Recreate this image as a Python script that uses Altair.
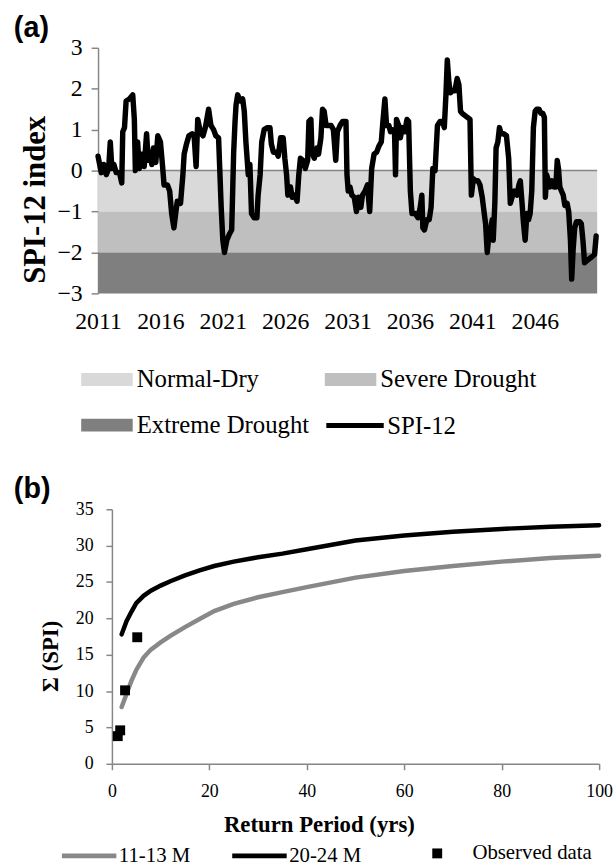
import altair as alt
import pandas as pd

SERIF = "Liberation Serif"
SANS = "Liberation Sans"
GRAY = "#868686"

# ---------------- panel (a) data ----------------
spi_year = [
    2011.00, 2011.26, 2011.45, 2011.66, 2011.85, 2011.98, 2012.11, 2012.27, 2012.46, 2012.72,
    2012.90, 2012.98, 2013.12, 2013.25, 2013.51, 2013.78, 2013.91, 2013.99, 2014.17, 2014.31,
    2014.49, 2014.70, 2014.89, 2015.02, 2015.15, 2015.31, 2015.44, 2015.63, 2015.79, 2016.00,
    2016.16, 2016.29, 2016.56, 2016.74, 2016.90, 2017.08, 2017.22, 2017.35, 2017.61, 2017.80,
    2017.90, 2018.09, 2018.28, 2018.54, 2018.70, 2018.86, 2018.99, 2019.20, 2019.41, 2019.60,
    2019.86, 2020.05, 2020.26, 2020.44, 2020.66, 2020.87, 2021.00, 2021.13, 2021.32, 2021.53,
    2021.71, 2021.79, 2021.87, 2021.98, 2022.06, 2022.19, 2022.40, 2022.59, 2022.72, 2022.85,
    2023.04, 2023.17, 2023.30, 2023.51, 2023.73, 2023.83, 2023.99, 2024.12, 2024.31, 2024.57,
    2024.78, 2024.89, 2025.05, 2025.31, 2025.44, 2025.63, 2025.84, 2025.97, 2026.11, 2026.21,
    2026.42, 2026.56, 2026.74, 2026.95, 2027.09, 2027.22, 2027.43, 2027.61, 2027.80, 2027.90,
    2028.06, 2028.14, 2028.33, 2028.54, 2028.67, 2028.86, 2028.99, 2029.12, 2029.28, 2029.47,
    2029.68, 2029.86, 2030.05, 2030.18, 2030.39, 2030.60, 2030.87, 2030.95, 2031.05, 2031.19,
    2031.34, 2031.53, 2031.71, 2031.87, 2032.06, 2032.19, 2032.40, 2032.59, 2032.77, 2032.93,
    2033.12, 2033.33, 2033.51, 2033.70, 2033.83, 2033.99, 2034.12, 2034.31, 2034.44, 2034.57,
    2034.76, 2034.84, 2034.92, 2035.10, 2035.23, 2035.37, 2035.58, 2035.76, 2035.89, 2036.03,
    2036.16, 2036.42, 2036.64, 2036.82, 2036.95, 2037.03, 2037.16, 2037.35, 2037.54, 2037.69,
    2037.83, 2038.01, 2038.20, 2038.41, 2038.62, 2038.75, 2038.88, 2038.99, 2039.12, 2039.25,
    2039.39, 2039.60, 2039.78, 2039.92, 2040.05, 2040.18, 2040.39, 2040.60, 2040.81, 2040.92,
    2041.08, 2041.26, 2041.45, 2041.61, 2041.79, 2041.93, 2042.06, 2042.19, 2042.32, 2042.46,
    2042.59, 2042.67, 2042.80, 2042.90, 2043.04, 2043.17, 2043.30, 2043.51, 2043.73, 2043.91,
    2044.04, 2044.23, 2044.36, 2044.57, 2044.73, 2044.84, 2044.97, 2045.10, 2045.23, 2045.37,
    2045.50, 2045.63, 2045.76, 2045.89, 2046.03, 2046.16, 2046.34, 2046.48, 2046.64, 2046.77,
    2046.85, 2046.95, 2047.09, 2047.22, 2047.38, 2047.54, 2047.69, 2047.80, 2047.90, 2048.01,
    2048.14, 2048.28, 2048.41, 2048.59, 2048.72, 2048.86, 2048.96, 2049.07, 2049.20, 2049.34,
    2049.60, 2049.73, 2049.86, 2049.99, 2050.18, 2050.39, 2050.60, 2050.79, 2050.92,
]
spi_value = [
    0.35, -0.05, 0.15, -0.10, 0.05, 0.70, 0.05, 0.15, -0.05, -0.05,
    -0.30, 0.95, 1.05, 1.70, 1.75, 1.85, 1.25, 0.00, 0.70, 0.05,
    0.40, 0.10, 0.90, 0.25, 0.45, 0.15, 0.55, 0.20, 0.85, 0.70,
    0.15, -0.35, -0.35, -0.50, -1.05, -1.40, -1.05, -0.75, -0.80, -0.10,
    0.40, 0.65, 0.85, 0.90, 0.85, 0.10, 1.25, 0.95, 0.85, 1.05,
    1.50, 1.10, 1.00, 0.85, 0.80, -0.90, -1.70, -2.00, -1.70, -1.55,
    -1.45, -0.50, 0.45, 1.20, 1.60, 1.85, 1.70, 1.75, 1.45, 0.70,
    -0.10, 0.15, -1.05, -1.15, -1.15, -0.60, -0.10, 0.70, 1.00, 1.05,
    1.05, 0.65, 0.45, 0.45, 0.35, 0.80, 0.80, 0.30, -0.10, -0.60,
    -0.40, -0.65, -0.60, -0.75, -0.10, 0.30, 0.25, 0.05, 0.25, 1.20,
    1.25, 0.45, 0.30, 0.55, 0.40, 0.80, 1.50, 1.45, 1.10, 1.10,
    1.10, 1.00, 0.25, 0.95, 1.10, 1.20, 1.20, -0.10, -0.50, -0.40,
    -0.60, -0.65, -1.00, -0.65, -0.90, -0.60, -0.50, -0.35, -1.00, 0.05,
    0.40, 0.45, 0.60, 0.70, 1.20, 1.75, 1.10, 1.10, 0.95, 1.00,
    0.95, -0.10, 1.25, 1.10, 0.80, 1.05, 0.95, 1.25, 1.20, -0.50,
    -1.05, -1.05, -1.15, -0.90, -0.60, -1.40, -1.45, -1.20, -1.20, -0.90,
    0.05, 0.00, 1.10, 1.20, 1.20, 1.05, 1.85, 2.70, 2.15, 1.90,
    1.95, 1.95, 2.25, 2.10, 1.45, 1.40, 1.35, 1.30, 1.25, -0.60,
    -0.20, -0.25, -0.25, -0.35, -0.65, -1.00, -1.30, -2.00, -1.60, -1.45,
    -1.20, -1.70, -0.80, 0.55, 0.70, 1.05, 0.90, 0.90, 0.85, 0.30,
    -0.80, -0.60, -0.50, -0.60, -0.35, -0.25, -0.75, -1.30, -1.70, -1.05,
    -1.20, -1.05, -0.50, 1.05, 1.45, 1.50, 1.50, 1.40, 1.40, 1.30,
    -0.65, -0.10, -0.25, -0.40, -0.25, -0.40, -0.40, 0.25, 0.05, -0.40,
    -0.50, -0.60, -0.85, -0.80, -1.00, -1.70, -2.65, -1.95, -1.40, -1.25,
    -1.25, -1.30, -1.70, -2.25, -2.20, -2.15, -2.10, -2.05, -1.60,
]
spi_series = ["SPI-12"]

band_names = ["Normal-Dry", "Severe Drought", "Extreme Drought"]
band_top = [0, -1, -2]
band_bottom = [-1, -2, -3]
band_colors = ["#d9d9d9", "#bfbfbf", "#7f7f7f"]
zero_line = [0]

year_domain = [2011, 2051]
year_ticks = [2011, 2016, 2021, 2026, 2031, 2036, 2041, 2046]
spi_domain = [-3, 3]
spi_ticks = [-3, -2, -1, 0, 1, 2, 3]

# ---------------- panel (b) data ----------------
rp_years = [2, 3, 4, 5, 6.5, 8, 10, 12, 15, 18, 21, 25, 30, 35, 40, 50, 60, 70, 80, 90, 100]
sum_11_13 = [7.8, 9.6, 11.4, 12.9, 14.6, 15.7, 16.7, 17.6, 18.8, 19.9, 21.0, 22.0, 22.9,
             23.6, 24.3, 25.6, 26.5, 27.2, 27.8, 28.3, 28.6]
sum_20_24 = [17.8, 19.6, 20.9, 22.1, 23.1, 23.8, 24.5, 25.1, 25.9, 26.6, 27.2, 27.8, 28.4,
             28.9, 29.5, 30.7, 31.4, 31.9, 32.3, 32.6, 32.8]
line_names = ["11-13 M", "20-24 M"]
line_colors = ["#888888", "#000000"]
obs_rp = [1.2, 1.7, 2.7, 5.2]
obs_sum = [3.8, 4.6, 10.1, 17.4]
obs_name = ["Observed data"]

rp_domain = [0, 100]
rp_ticks = [0, 20, 40, 60, 80, 100]
sum_domain = [0, 35]
sum_ticks = [0, 5, 10, 15, 20, 25, 30, 35]

# ---------------- panel (a) ----------------
WA, HA = 504, 248

spi_df = pd.DataFrame({"year": spi_year, "spi": spi_value, "series": spi_series * len(spi_year)})
bands_df = pd.DataFrame({
    "band": band_names, "top": band_top, "bottom": band_bottom,
    "x0": [year_domain[0]] * len(band_names), "x1": [year_domain[1]] * len(band_names),
})
zero_df = pd.DataFrame({"y": zero_line})

xa_scale = alt.Scale(domain=year_domain, nice=False, zero=False)
ya_scale = alt.Scale(domain=spi_domain, nice=False, zero=False)
xa_axis = alt.Axis(values=year_ticks, format="d", title=None, grid=False, domain=False,
                   ticks=False, labelFont=SERIF, labelFontSize=24, labelColor="black",
                   labelPadding=16, labelFlush=False, labelOverlap=False)
ya_axis = alt.Axis(values=spi_ticks, title="SPI-12 index", grid=False,
                   titleFont=SERIF, titleFontSize=31, titleFontWeight="bold", titleColor="black",
                   titleX=-63, titleY=153, titleBaseline="middle", titleAlign="center",
                   labelFont=SERIF, labelFontSize=24, labelColor="black", labelPadding=9,
                   tickSize=7, tickColor=GRAY, tickWidth=1.5, domainColor=GRAY, domainWidth=1.5,
                   labelOverlap=False)

bands = alt.Chart(bands_df).mark_rect().encode(
    x=alt.X("x0:Q", scale=xa_scale, axis=xa_axis),
    x2="x1:Q",
    y=alt.Y("top:Q", scale=ya_scale, axis=ya_axis),
    y2="bottom:Q",
    fill=alt.Fill("band:N", scale=alt.Scale(domain=band_names, range=band_colors),
                  legend=alt.Legend(title=None, orient="none", legendX=-17, legendY=309,
                                    columns=2, direction="horizontal",
                                    symbolType="M-1,-0.25H1V0.25H-1Z",
                                    symbolSize=2704, symbolStrokeWidth=0, symbolOpacity=1,
                                    labelFont=SERIF, labelFontSize=25, labelColor="black",
                                    labelOffset=4, columnPadding=15, rowPadding=7, padding=0,
                                    labelLimit=400)),
)

zero_rule = alt.Chart(zero_df).mark_rule(color=GRAY, strokeWidth=1.5).encode(
    y=alt.Y("y:Q", scale=ya_scale, axis=ya_axis)
)

spi_line = alt.Chart(spi_df).mark_line(strokeWidth=5.5, strokeJoin="round", strokeCap="round").encode(
    x=alt.X("year:Q", scale=xa_scale, axis=xa_axis),
    y=alt.Y("spi:Q", scale=ya_scale, axis=ya_axis),
    stroke=alt.Stroke("series:N", scale=alt.Scale(domain=spi_series, range=["#000000"]),
                      legend=alt.Legend(title=None, orient="none", legendX=228, legendY=350,
                                        symbolType="stroke", symbolSize=3364, symbolStrokeWidth=5,
                                        labelFont=SERIF, labelFontSize=25, labelColor="black",
                                        labelOffset=1, padding=0)),
)

panel_a = alt.layer(bands, zero_rule, spi_line).properties(
    width=WA, height=HA,
    title=alt.TitleParams("(a)", anchor="start", frame="group", dx=-85, dy=11,
                          font=SANS, fontSize=29, fontWeight="bold", color="black"),
).resolve_scale(fill="independent", stroke="independent").resolve_legend(
    fill="independent", stroke="independent")

# ---------------- panel (b) ----------------
WB, HB = 492, 257

lines_df = pd.DataFrame({
    "rp": rp_years + rp_years,
    "val": sum_11_13 + sum_20_24,
    "series": [line_names[0]] * len(rp_years) + [line_names[1]] * len(rp_years),
})
obs_df = pd.DataFrame({"rp": obs_rp, "val": obs_sum, "series": obs_name * len(obs_rp)})

xb_scale = alt.Scale(domain=rp_domain, nice=False, zero=False)
yb_scale = alt.Scale(domain=sum_domain, nice=False, zero=False)
xb_axis = alt.Axis(values=rp_ticks, title="Return Period (yrs)", grid=False,
                   titleFont=SERIF, titleFontSize=23, titleFontWeight="bold", titleColor="black",
                   titleX=209, titleY=61, titleBaseline="middle", titleAlign="center",
                   labelFont=SERIF, labelFontSize=18, labelColor="black", labelPadding=13,
                   labelFlush=False, labelOverlap=False,
                   tickSize=6, tickColor=GRAY, tickWidth=1.5, domainColor=GRAY, domainWidth=1.5)
yb_axis = alt.Axis(values=sum_ticks, title="\u03a3 (SPI)", grid=False,
                   titleFont=SERIF, titleFontSize=23, titleFontWeight="bold", titleColor="black",
                   titleX=-62, titleY=148, titleBaseline="middle", titleAlign="center",
                   labelFont=SERIF, labelFontSize=18, labelColor="black", labelPadding=13,
                   labelOverlap=False,
                   tickSize=6, tickColor=GRAY, tickWidth=1.5, domainColor=GRAY, domainWidth=1.5)

rp_lines = alt.Chart(lines_df).mark_line(strokeWidth=4.5, strokeCap="round").encode(
    x=alt.X("rp:Q", scale=xb_scale, axis=xb_axis),
    y=alt.Y("val:Q", scale=yb_scale, axis=yb_axis),
    stroke=alt.Stroke("series:N", scale=alt.Scale(domain=line_names, range=line_colors),
                      legend=alt.Legend(title=None, orient="none", legendX=-53, legendY=320,
                                        direction="horizontal", symbolType="stroke",
                                        symbolSize=3025, symbolStrokeWidth=5,
                                        labelFont=SERIF, labelFontSize=21, labelColor="black",
                                        labelOffset=0, columnPadding=31, padding=0)),
)

obs_pts = alt.Chart(obs_df).mark_point(filled=True, size=100, opacity=1, color="black").encode(
    x=alt.X("rp:Q", scale=xb_scale, axis=xb_axis),
    y=alt.Y("val:Q", scale=yb_scale, axis=yb_axis),
    shape=alt.Shape("series:N", scale=alt.Scale(domain=obs_name, range=["square"]),
                    legend=alt.Legend(title=None, orient="none", legendX=318, legendY=337,
                                      symbolSize=100, symbolFillColor="black", symbolStrokeWidth=0,
                                      labelFont=SERIF, labelFontSize=21, labelColor="black",
                                      labelOffset=25, padding=0)),
)

panel_b = alt.layer(rp_lines, obs_pts).properties(
    width=WB, height=HB,
    title=alt.TitleParams("(b)", anchor="start", frame="group", dx=-99, dy=8,
                          font=SANS, fontSize=29, fontWeight="bold", color="black"),
).resolve_scale(stroke="independent", shape="independent").resolve_legend(
    stroke="independent", shape="independent")


def spacer():
    return alt.Chart(pd.DataFrame({"s": [0]})).mark_point(opacity=0).properties(width=1, height=1)


row_a = alt.hconcat(spacer(), panel_a, spacing=0)
row_b = alt.hconcat(spacer(), panel_b, spacing=0)

chart = alt.vconcat(row_a, row_b, spacing=37).resolve_scale(
    x="independent", y="independent", stroke="independent", fill="independent", shape="independent"
).resolve_legend(stroke="independent", fill="independent", shape="independent").properties(
    padding={"left": 7, "top": 10, "right": 0, "bottom": 0}
).configure_view(stroke=None).configure_axis(labelFont=SERIF, labelColor="black")

chart.save("out.html", embed_options={"renderer": "svg", "actions": False})
